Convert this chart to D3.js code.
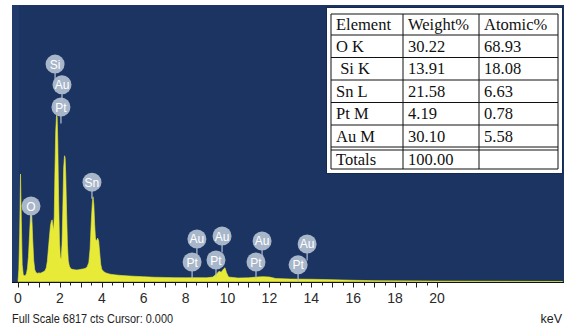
<!DOCTYPE html>
<html>
<head>
<meta charset="utf-8">
<script src="https://cdn.jsdelivr.net/npm/d3@7"></script>
<style>
  html, body { margin: 0; padding: 0; background: #fff; }
  svg { display: block; }
</style>
</head>
<body>
<svg id="chart" width="564" height="327"></svg>
<script>
// EDS spectrum: energy (keV) and counts per channel
const energyKeV = [0.00, 0.04, 0.08, 0.12, 0.16, 0.20, 0.25, 0.30, 0.35, 0.40, 0.45, 0.50, 0.55, 0.60, 0.63, 0.66, 0.70, 0.75, 0.80, 0.85, 0.90, 0.95, 1.00, 1.05, 1.10, 1.15, 1.20, 1.25, 1.30, 1.35, 1.40, 1.45, 1.50, 1.55, 1.60, 1.63, 1.66, 1.70, 1.73, 1.76, 1.80, 1.84, 1.87, 1.90, 1.94, 1.98, 2.02, 2.06, 2.10, 2.14, 2.18, 2.22, 2.25, 2.28, 2.32, 2.36, 2.40, 2.45, 2.50, 2.55, 2.60, 2.70, 2.80, 2.90, 3.00, 3.10, 3.20, 3.30, 3.38, 3.44, 3.50, 3.55, 3.58, 3.62, 3.66, 3.70, 3.75, 3.80, 3.85, 3.90, 3.95, 4.00, 4.10, 4.20, 4.40, 4.60, 4.80, 5.00, 5.50, 6.00, 6.50, 7.00, 7.50, 8.00, 8.50, 9.00, 9.30, 9.50, 9.60, 9.70, 9.80, 9.88, 9.95, 10.05, 10.50, 11.00, 11.40, 11.70, 12.00, 12.30, 13.00, 14.00, 15.00, 16.00, 17.00, 20.00, 26.00];
const counts    = [0, 300, 1200, 2650, 1500, 420, 170, 140, 150, 190, 320, 620, 1150, 1650, 1760, 1600, 1050, 520, 290, 230, 210, 200, 215, 205, 210, 225, 235, 250, 280, 340, 500, 800, 1100, 1380, 1500, 1520, 1400, 1250, 1600, 2600, 3700, 4100, 4050, 3400, 2000, 1000, 600, 560, 900, 1800, 2800, 3100, 3050, 2600, 1700, 900, 520, 380, 330, 310, 300, 290, 285, 290, 300, 310, 320, 360, 470, 800, 1500, 1950, 2090, 1900, 1400, 1050, 1000, 1070, 1000, 700, 420, 300, 240, 210, 180, 165, 155, 145, 130, 118, 105, 100, 95, 92, 95, 92, 110, 200, 250, 230, 300, 340, 220, 110, 85, 90, 110, 120, 110, 75, 60, 55, 45, 30, 20, 10, 0];

// Peak identification markers: element and line energy (keV), marker height (cts)
const markerElements = ["O", "Si", "Pt", "Au", "Sn", "Pt", "Au", "Pt", "Au", "Pt", "Au", "Pt", "Au"];
const markerEnergies = [0.62, 1.77, 2.05, 2.10, 3.53, 8.31, 8.54, 9.45, 9.74, 11.36, 11.65, 13.37, 13.80];
const markerHeights  = [1860, 5360, 4300, 4850, 2450, 480, 1050, 530, 1120, 480, 1000, 410, 925];

// Axis labels
const axisTicks = [0, 2, 4, 6, 8, 10, 12, 14, 16, 18, 20];
const fullScale = 6817;

// Quantification table
const tableHeader = ["Element", "Weight%", "Atomic%"];
const tableElements = ["O K", " Si K", "Sn L", "Pt M", "Au M", "Totals"];
const weightPct = ["30.22", "13.91", "21.58", "4.19", "30.10", "100.00"];
const atomicPct = ["68.93", "18.08", "6.63", "0.78", "5.58", ""];

const svg = d3.select("#chart");
const W = 564, H = 327;

const plot = { left: 12, right: 564, top: 5, bottom: 282 };

const x = d3.scaleLinear().domain([0, 20]).range([18, 437]);
const y = d3.scaleLinear().domain([0, fullScale]).range([281.5, plot.top]);

// background
svg.append("rect").attr("width", W).attr("height", H).attr("fill", "#fff");
svg.append("rect")
  .attr("x", plot.left).attr("y", plot.top)
  .attr("width", plot.right - plot.left).attr("height", plot.bottom - plot.top)
  .attr("fill", "#1c3462");
svg.append("rect")
  .attr("x", plot.left).attr("y", plot.top)
  .attr("width", 7).attr("height", plot.bottom - plot.top)
  .attr("fill", "#203a69");

// spectrum
const spectrum = energyKeV.map((e, i) => ({ e, c: counts[i] }));
const area = d3.area()
  .x(d => x(d.e))
  .y0(y(0))
  .y1(d => y(d.c));
svg.append("path")
  .datum(spectrum)
  .attr("d", area)
  .attr("fill", "#e8ea38")
  .attr("stroke", "#e8ea38")
  .attr("stroke-width", 0.6);

// x axis
const axisY = 282.5;
svg.append("line")
  .attr("x1", plot.left).attr("x2", plot.right)
  .attr("y1", axisY).attr("y2", axisY)
  .attr("stroke", "#111").attr("stroke-width", 1);

const minorTicks = d3.range(0, 20.001, 0.5);
svg.append("g")
  .selectAll("line")
  .data(minorTicks)
  .join("line")
  .attr("x1", d => Math.round(x(d)) + 0.5)
  .attr("x2", d => Math.round(x(d)) + 0.5)
  .attr("y1", axisY)
  .attr("y2", d => axisY + (d % 1 === 0 ? 5 : 3))
  .attr("stroke", "#222").attr("stroke-width", 1);

svg.append("g")
  .selectAll("text")
  .data(axisTicks)
  .join("text")
  .attr("x", d => x(d))
  .attr("y", 303)
  .attr("text-anchor", "middle")
  .attr("font-family", "Liberation Sans, Arial, sans-serif")
  .attr("font-size", 14)
  .attr("fill", "#2a2a2a")
  .text(d => d);

svg.append("text")
  .attr("x", 12).attr("y", 323)
  .attr("font-family", "Liberation Sans, Arial, sans-serif")
  .attr("font-size", 13)
  .attr("textLength", 161)
  .attr("lengthAdjust", "spacingAndGlyphs")
  .attr("fill", "#222")
  .text("Full Scale " + fullScale + " cts Cursor: 0.000");

svg.append("text")
  .attr("x", 562).attr("y", 323)
  .attr("text-anchor", "end")
  .attr("font-family", "Liberation Sans, Arial, sans-serif")
  .attr("font-size", 12.5)
  .attr("fill", "#222")
  .text("keV");

// element markers
const defs = svg.append("defs");
defs.append("filter").attr("id", "soft")
  .append("feGaussianBlur").attr("stdDeviation", 0.5);

const markers = markerElements.map((el, i) => ({ el, e: markerEnergies[i], h: markerHeights[i] }));
const r = 9.5;
const mg = svg.append("g");
markers.forEach(m => {
  const cx = x(m.e), cy = y(m.h);
  mg.append("line")
    .attr("x1", cx).attr("x2", cx)
    .attr("y1", cy).attr("y2", cy + r + 7)
    .attr("stroke", "#b4c0d2").attr("stroke-width", 1.2);
  mg.append("circle")
    .attr("cx", cx).attr("cy", cy).attr("r", r)
    .attr("fill", "#a8b6ca")
    .attr("filter", "url(#soft)");
  mg.append("text")
    .attr("x", cx).attr("y", cy + 4.5)
    .attr("text-anchor", "middle")
    .attr("font-family", "Liberation Sans, Arial, sans-serif")
    .attr("font-size", 12)
    .attr("fill", "#fff")
    .text(m.el);
});

// quantification table
const box = { x: 327, y: 8, w: 235, h: 165 };
svg.append("rect")
  .attr("x", box.x - 0.5).attr("y", box.y - 0.5)
  .attr("width", box.w + 1).attr("height", box.h + 1)
  .attr("fill", "#fff").attr("stroke", "#16294f").attr("stroke-width", 1);

const colX = [331, 403, 479, 558];
const rowY = [14, 35, 57.5, 80, 102.5, 125, 147, 169];
const tg = svg.append("g");
const lineAttr = sel => sel.attr("stroke", "#111").attr("stroke-width", 1);

// horizontal rules
rowY.forEach(yy => {
  tg.append("line").attr("x1", colX[0]).attr("x2", colX[3])
    .attr("y1", yy).attr("y2", yy).call(lineAttr);
});
tg.append("line").attr("x1", colX[0]).attr("x2", colX[3])
  .attr("y1", 150).attr("y2", 150).call(lineAttr);
// vertical rules
colX.forEach(xx => {
  tg.append("line").attr("x1", xx).attr("x2", xx)
    .attr("y1", rowY[0]).attr("y2", rowY[rowY.length - 1]).call(lineAttr);
});

const cellText = (txt, col, rowTop, rowBottom) => {
  tg.append("text")
    .attr("x", colX[col] + 5)
    .attr("y", (rowTop + rowBottom) / 2 + 5.5)
    .attr("font-family", "Liberation Serif, Times New Roman, serif")
    .attr("font-size", 16.5)
    .attr("fill", "#111")
    .attr("xml:space", "preserve")
    .style("white-space", "pre")
    .text(txt);
};
tableHeader.forEach((t, c) => cellText(t, c, rowY[0], rowY[1]));
tableElements.forEach((t, i) => {
  const top = i === 5 ? 150 : rowY[i + 1];
  const bottom = rowY[i + 2];
  cellText(t, 0, top, bottom);
  cellText(weightPct[i], 1, top, bottom);
  cellText(atomicPct[i], 2, top, bottom);
});
</script>
</body>
</html>
